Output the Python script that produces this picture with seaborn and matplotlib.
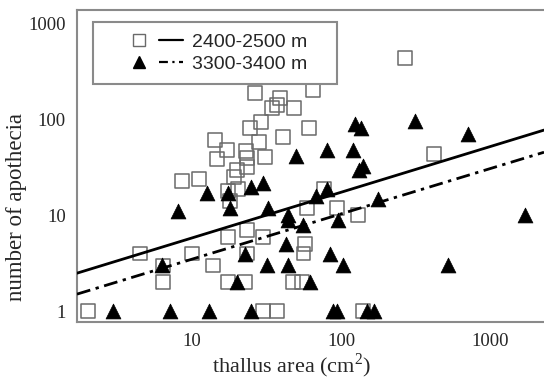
import numpy as np
import pandas as pd
import matplotlib
matplotlib.use('Agg')
import matplotlib.pyplot as plt
from matplotlib.patches import Rectangle
from matplotlib.lines import Line2D
from matplotlib.legend_handler import HandlerTuple
import seaborn as sns

# 2400-2500 m (open squares)
low_area = [2.0, 4.5, 6.4, 6.4, 10, 13.8, 17.5, 23.4, 30, 23.4, 57, 56, 17.5, 22.7,
            47.6, 54.7, 30, 37, 141, 59, 94, 130, 77, 8.6, 11.1, 17.5, 20.4, 18,
            19.1, 20, 23.4, 23.4, 23, 14.7, 17.2, 14.3, 28.2, 30.9, 40.8, 24.5, 29,
            61, 48.4, 34.4, 37.2, 39, 26.5, 65, 270, 420]
low_apoth = [1, 4, 3, 2, 4, 3, 6, 7, 6, 4, 5, 4, 2, 2,
             2, 2, 1, 1, 1, 12, 12, 10, 19, 23, 24, 18, 19, 14,
             25, 30, 32, 40, 47, 39, 48, 61, 58, 41, 66, 82, 94,
             82, 132, 132, 142, 168, 190, 204, 440, 44]

# 3300-3400 m (filled triangles)
high_area = [2.95, 7.1, 13, 24.9, 88, 94, 149, 166, 6.3, 22.7, 31.8, 44, 42.8, 20,
             62, 84, 103, 522, 1720, 32.4, 44, 44, 55.6, 95.5, 68, 80.5, 177, 24.9,
             30, 12.6, 17.5, 18, 8.05, 50, 80.5, 120, 124, 136, 314, 711, 141, 132]
high_apoth = [1, 1, 1, 1, 1, 1, 1, 1, 3, 4, 3, 3, 5, 2,
              2, 4, 3, 3, 10, 12, 10, 9, 8, 9, 16, 19, 15, 20,
              22, 17, 17, 12, 11, 42, 48, 48, 90, 82, 97, 71, 33, 30]

# fitted lines, log10(y) = intercept + slope * log10(x)
fit_names = ['2400-2500 m', '3300-3400 m']
fit_intercept = [0.288, 0.070]
fit_slope = [0.477, 0.473]

x_ticks = [10, 100, 1000]
y_ticks = [1, 10, 100, 1000]

sns.set_style('white')
plt.rcParams['font.family'] = ['Liberation Serif', 'DejaVu Serif']
plt.rcParams['mathtext.fontset'] = 'custom'
plt.rcParams['mathtext.rm'] = 'Liberation Serif'

low = pd.DataFrame({'area': low_area, 'apoth': low_apoth})
high = pd.DataFrame({'area': high_area, 'apoth': high_apoth})

fig = plt.figure(figsize=(5.44, 3.80), dpi=100)
ax = fig.add_axes([0.1415, 0.1526, 0.8585, 0.8211])
ax.set_xscale('log')
ax.set_yscale('log')
ax.set_xlim(1.69, 2300)
ax.set_ylim(0.77, 1400)

sns.scatterplot(data=low, x='area', y='apoth', ax=ax, marker='s', s=100,
                facecolor='none', edgecolor='#6a6a6a', linewidth=1.1, zorder=3)
sns.scatterplot(data=high, x='area', y='apoth', ax=ax, marker='^', s=115,
                color='black', edgecolor='black', linewidth=0.5, zorder=4)

xs = np.logspace(np.log10(1.69), np.log10(2300), 50)
ax.plot(xs, 10 ** (fit_intercept[0] + fit_slope[0] * np.log10(xs)),
        color='black', lw=2.0, zorder=5)
ax.plot(xs, 10 ** (fit_intercept[1] + fit_slope[1] * np.log10(xs)),
        color='black', lw=2.0, dashes=(5, 2, 1.2, 2), zorder=5)

ax.set_xticks(x_ticks)
ax.set_xticklabels([str(t) for t in x_ticks])
ax.set_yticks(y_ticks)
ax.set_yticklabels([str(t) for t in y_ticks])
ax.minorticks_off()
ax.tick_params(axis='both', length=2, width=1, color='#555555', labelsize=13.5,
               direction='out', pad=6)

for side in ['left', 'top', 'bottom']:
    ax.spines[side].set_color('#8a8a8a')
    ax.spines[side].set_linewidth(1.5)
ax.spines['right'].set_visible(False)

ax.set_xlabel('thallus area (cm$^2$)', fontsize=16)
ax.set_ylabel('number of apothecia', fontsize=16.5)
ax.xaxis.set_label_coords(0.46, -0.093)
ax.yaxis.set_label_coords(-0.107, 0.37)

# legend frame and legend
ax.add_patch(Rectangle((0.034, 0.763), 0.522, 0.199, transform=ax.transAxes,
                       fill=True, facecolor='white', edgecolor='#8a8a8a',
                       lw=1.5, zorder=6))
sq = Line2D([], [], marker='s', ls='none', markersize=8, mfc='none',
            mec='#6a6a6a', mew=1.0)
tri = Line2D([], [], marker='^', ls='none', markersize=8, color='black')
l1 = Line2D([], [], color='black', lw=1.6)
l2 = Line2D([], [], color='black', lw=1.6, dashes=(4, 2, 1, 2))
leg = ax.legend([(sq, l1), (tri, l2)], fit_names,
                handler_map={tuple: HandlerTuple(ndivide=None, pad=0.4)},
                loc='center', bbox_to_anchor=(0.300, 0.862), frameon=False,
                handlelength=2.9, handletextpad=0.45, labelspacing=0.25,
                prop={'family': 'Liberation Sans', 'size': 14})
leg.set_zorder(7)

fig.savefig('out.png', dpi=100)
